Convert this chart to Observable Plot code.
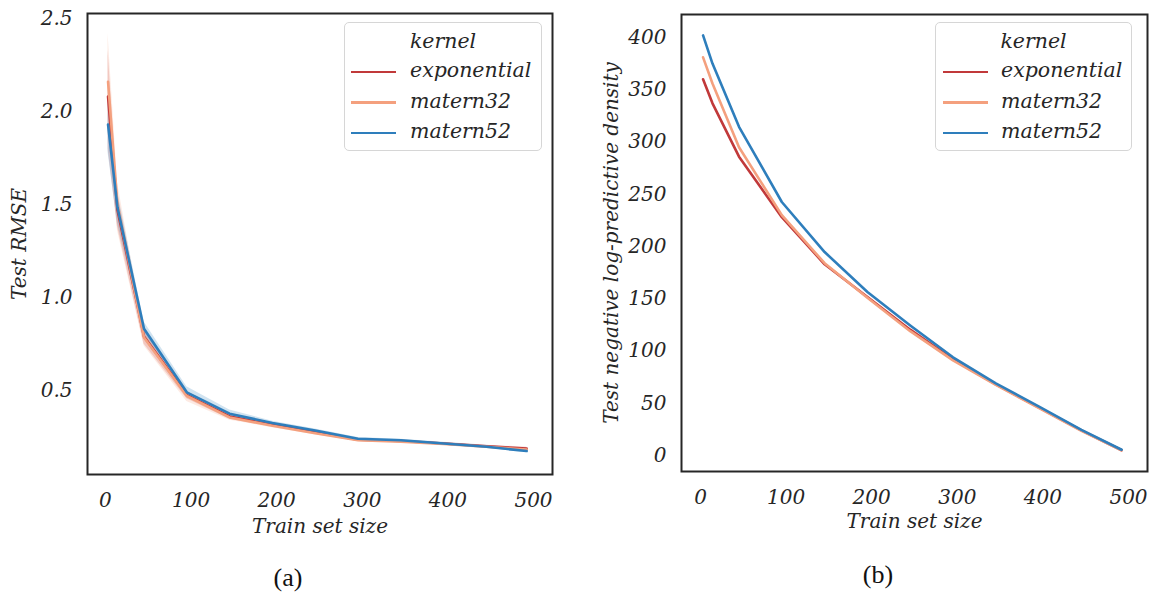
<!DOCTYPE html>
<html>
<head>
<meta charset="utf-8">
<script src="https://cdn.jsdelivr.net/npm/d3@7"></script>
<script src="https://cdn.jsdelivr.net/npm/@observablehq/plot@0.6"></script>
<style>
  html, body { margin: 0; padding: 0; background: white; }
  #wrap { position: relative; width: 1154px; height: 597px; overflow: hidden; background: white; }
  .panel { position: absolute; top: 0; }
  .legend { position: absolute; border: 1px solid #d6d6d6; border-radius: 5px; background: rgba(255,255,255,0.85);
            font-family: 'DejaVu Serif', serif; font-style: italic; font-size: 20.5px; color: #262626; box-sizing: border-box; }
  .legend .title { position: absolute; width: 100%; text-align: center; }
  .legend .row { position: absolute; left: 0; white-space: nowrap; }
  .legend .sw { position: absolute; height: 2.6px; width: 45px; }
  .legend .lbl { position: absolute; white-space: nowrap; }
  .cap { position: absolute; font-family: 'Liberation Serif', serif; font-size: 26px; color: #111; transform: translate(-50%, -50%); }
</style>
</head>
<body>
<div id="wrap"></div>
<script>
// ---- data ----
const kernels = ["exponential", "matern32", "matern52"];
const kernelColors = ["#c1393a", "#f4a07e", "#2e7ebc"];
const trainSizes = [3, 14, 45, 95, 145, 195, 245, 295, 345, 395, 445, 492];
const xTicks = [0, 100, 200, 300, 400, 500];
const rmseTicks = [0.5, 1.0, 1.5, 2.0, 2.5];
const nlpdTicks = [0, 50, 100, 150, 200, 250, 300, 350, 400];

// Test RMSE (mean, lower, upper) per kernel
const rmseExponential   = [2.08, 1.47, 0.790, 0.475, 0.360, 0.315, 0.275, 0.235, 0.228, 0.215, 0.200, 0.187];
const rmseExponentialLo = [1.80, 1.38, 0.750, 0.455, 0.345, 0.305, 0.268, 0.230, 0.222, 0.210, 0.195, 0.180];
const rmseExponentialHi = [2.33, 1.56, 0.830, 0.495, 0.375, 0.325, 0.283, 0.240, 0.234, 0.220, 0.205, 0.195];
const rmseMatern32      = [2.16, 1.50, 0.785, 0.470, 0.355, 0.310, 0.270, 0.232, 0.225, 0.212, 0.197, 0.182];
const rmseMatern32Lo    = [1.90, 1.36, 0.740, 0.440, 0.340, 0.300, 0.262, 0.226, 0.220, 0.206, 0.190, 0.175];
const rmseMatern32Hi    = [2.42, 1.62, 0.820, 0.490, 0.370, 0.320, 0.278, 0.238, 0.230, 0.218, 0.203, 0.190];
const rmseMatern52      = [1.93, 1.485, 0.832, 0.490, 0.375, 0.325, 0.285, 0.240, 0.232, 0.215, 0.197, 0.174];
const rmseMatern52Lo    = [1.78, 1.40, 0.800, 0.470, 0.360, 0.315, 0.278, 0.235, 0.228, 0.210, 0.190, 0.165];
const rmseMatern52Hi    = [2.08, 1.57, 0.870, 0.520, 0.395, 0.335, 0.293, 0.247, 0.238, 0.222, 0.205, 0.182];

// Test negative log-predictive density per kernel
const nlpdExponential = [360, 337, 286, 228, 183, 151.6, 120.4, 92, 68, 46, 24, 5];
const nlpdMatern32    = [381, 356, 295, 230, 184, 151, 119, 91, 67.5, 45.5, 23.5, 5];
const nlpdMatern52    = [402, 375, 314.5, 242.6, 194.7, 156.4, 124.5, 94, 69, 47, 24.5, 5.5];

// ---- build table ----
const rmseMean = [rmseExponential, rmseMatern32, rmseMatern52];
const rmseLo = [rmseExponentialLo, rmseMatern32Lo, rmseMatern52Lo];
const rmseHi = [rmseExponentialHi, rmseMatern32Hi, rmseMatern52Hi];
const nlpd = [nlpdExponential, nlpdMatern32, nlpdMatern52];
const rows = [];
kernels.forEach((k, i) => trainSizes.forEach((n, j) => rows.push({
  kernel: k, n, rmse: rmseMean[i][j], lo: rmseLo[i][j], hi: rmseHi[i][j], nlpd: nlpd[i][j]
})));

const baseStyle = { fontFamily: "'DejaVu Serif', serif", fontStyle: "italic", fontSize: "20px", color: "#262626", background: "white", overflow: "visible" };
const colorScale = { domain: kernels, range: kernelColors };

const left = Plot.plot({
  width: 570, height: 530,
  marginLeft: 87, marginRight: 18, marginTop: 13, marginBottom: 56,
  x: { domain: [-21, 522.2] },
  y: { domain: [0.048, 2.527] },
  color: colorScale,
  style: baseStyle,
  marks: [
    Plot.areaY(rows, { x: "n", y1: "lo", y2: "hi", fill: "kernel", fillOpacity: 0.22, z: "kernel" }),
    Plot.line(rows, { x: "n", y: "rmse", stroke: "kernel", strokeWidth: 2.6, z: "kernel" }),
    Plot.frame({ stroke: "#262626", strokeWidth: 2 }),
    Plot.axisX({ ticks: xTicks, tickSize: 0, tickPadding: 18, label: "Train set size", labelAnchor: "center", labelArrow: "none", labelOffset: 58 }),
    Plot.axisY({ ticks: rmseTicks, tickFormat: d3.format(".1f"), tickSize: 0, tickPadding: 15, label: "Test RMSE", labelAnchor: "center", labelArrow: "none", labelOffset: 76 })
  ]
});

const right = Plot.plot({
  width: 564, height: 530,
  marginLeft: 91, marginRight: 7, marginTop: 14, marginBottom: 59,
  x: { domain: [-22.2, 522.2] },
  y: { domain: [-15.3, 422] },
  color: colorScale,
  style: baseStyle,
  marks: [
    Plot.line(rows, { x: "n", y: "nlpd", stroke: "kernel", strokeWidth: 2.6, z: "kernel" }),
    Plot.frame({ stroke: "#262626", strokeWidth: 2 }),
    Plot.axisX({ ticks: xTicks, tickSize: 0, tickPadding: 18, label: "Train set size", labelAnchor: "center", labelArrow: "none", labelOffset: 56 }),
    Plot.axisY({ ticks: nlpdTicks, tickSize: 0, tickPadding: 15, label: "Test negative log-predictive density", labelAnchor: "center", labelArrow: "none", labelOffset: 78 })
  ]
});

const wrap = document.getElementById("wrap");
function addPanel(node, x) {
  const d = document.createElement("div");
  d.className = "panel";
  d.style.left = x + "px";
  d.appendChild(node);
  wrap.appendChild(d);
}
addPanel(left, 0);
addPanel(right, 590);

function addLegend(x, y, w, h, lineX, textX) {
  const lg = document.createElement("div");
  lg.className = "legend";
  Object.assign(lg.style, { left: x + "px", top: y + "px", width: w + "px", height: h + "px" });
  const t = document.createElement("div");
  t.className = "title"; t.textContent = "kernel"; t.style.top = "6px";
  lg.appendChild(t);
  kernels.forEach((k, i) => {
    const cy = 49 + i * 30.5;
    const sw = document.createElement("div");
    sw.className = "sw";
    Object.assign(sw.style, { left: lineX + "px", top: (cy - 1.3) + "px", background: kernelColors[i] });
    lg.appendChild(sw);
    const lb = document.createElement("div");
    lb.className = "lbl"; lb.textContent = k;
    Object.assign(lb.style, { left: textX + "px", top: (cy - 14) + "px" });
    lg.appendChild(lb);
  });
  wrap.appendChild(lg);
}
addLegend(344, 22, 198, 129, 6, 65);
addLegend(935, 22, 197, 129, 7, 65);

function addCap(text, x, y) {
  const c = document.createElement("div");
  c.className = "cap"; c.textContent = text;
  Object.assign(c.style, { left: x + "px", top: y + "px" });
  wrap.appendChild(c);
}
addCap("(a)", 288, 578);
addCap("(b)", 878, 575);
</script>
</body>
</html>
